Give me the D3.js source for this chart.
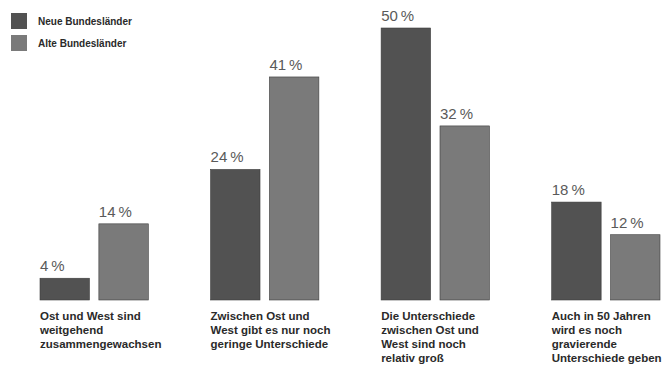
<!DOCTYPE html>
<html>
<head>
<meta charset="utf-8">
<script src="https://cdn.jsdelivr.net/npm/d3@7"></script>
<style>
  body { margin: 0; background: #fff; }
  text { font-family: "Liberation Sans", Arial, sans-serif; }
</style>
</head>
<body>
<div id="chart"></div>
<script>
const categories = [
  ["Ost und West sind", "weitgehend", "zusammengewachsen"],
  ["Zwischen Ost und", "West gibt es nur noch", "geringe Unterschiede"],
  ["Die Unterschiede", "zwischen Ost und", "West sind noch", "relativ groß"],
  ["Auch in 50 Jahren", "wird es noch", "gravierende", "Unterschiede geben"]
];
const seriesNames = ["Neue Bundesländer", "Alte Bundesländer"];
const neue = [4, 24, 50, 18];
const alte = [14, 41, 32, 12];
const colors = ["#525252", "#7a7a7a"];

const width = 671;
const height = 367;
const baseline = 300;

const svg = d3.select("#chart")
  .append("svg")
  .attr("width", width)
  .attr("height", height);

const data = categories.map((c, i) => ({ idx: i, lines: c, values: [neue[i], alte[i]] }));

const x0 = d3.scaleBand()
  .domain(d3.range(categories.length))
  .range([40, 660])
  .paddingInner(0.365)
  .paddingOuter(0);

const x1 = d3.scaleBand()
  .domain([0, 1])
  .range([0, x0.bandwidth()])
  .paddingInner(0.16);

const y = d3.scaleLinear()
  .domain([0, 50])
  .range([baseline, 28]);

const groups = svg.selectAll("g.group")
  .data(data)
  .enter()
  .append("g")
  .attr("class", "group")
  .attr("transform", (d) => `translate(${x0(d.idx)},0)`);

groups.selectAll("rect")
  .data((d) => d.values.map((v, s) => ({ v, s })))
  .enter()
  .append("rect")
  .attr("x", (d) => x1(d.s))
  .attr("y", (d) => y(d.v))
  .attr("width", x1.bandwidth())
  .attr("height", (d) => baseline - y(d.v))
  .attr("fill", (d) => colors[d.s])
  .attr("stroke", "#3c3c3c")
  .attr("stroke-width", 0.6);

groups.selectAll("text.value")
  .data((d) => d.values.map((v, s) => ({ v, s })))
  .enter()
  .append("text")
  .attr("class", "value")
  .attr("x", (d) => x1(d.s))
  .attr("y", (d) => y(d.v) - 7)
  .attr("font-size", 15)
  .attr("fill", "#5a5a5a")
  .text((d) => d.v + "\u2009%");

groups.append("text")
  .attr("class", "cat")
  .attr("font-size", 11.5)
  .attr("font-weight", "bold")
  .attr("fill", "#2a2a2a")
  .selectAll("tspan")
  .data((d) => d.lines)
  .enter()
  .append("tspan")
  .attr("x", 0)
  .attr("y", (d, i) => 319.5 + i * 14.2)
  .text((d) => d);

const legend = svg.append("g");
seriesNames.forEach((name, i) => {
  legend.append("rect")
    .attr("x", 11)
    .attr("y", 13 + i * 22)
    .attr("width", 16)
    .attr("height", 16)
    .attr("fill", colors[i]);
  legend.append("text")
    .attr("x", 38)
    .attr("y", 25 + i * 22)
    .attr("font-size", 10)
    .attr("font-weight", "bold")
    .attr("fill", "#2a2a2a")
    .text(name);
});
</script>
</body>
</html>
